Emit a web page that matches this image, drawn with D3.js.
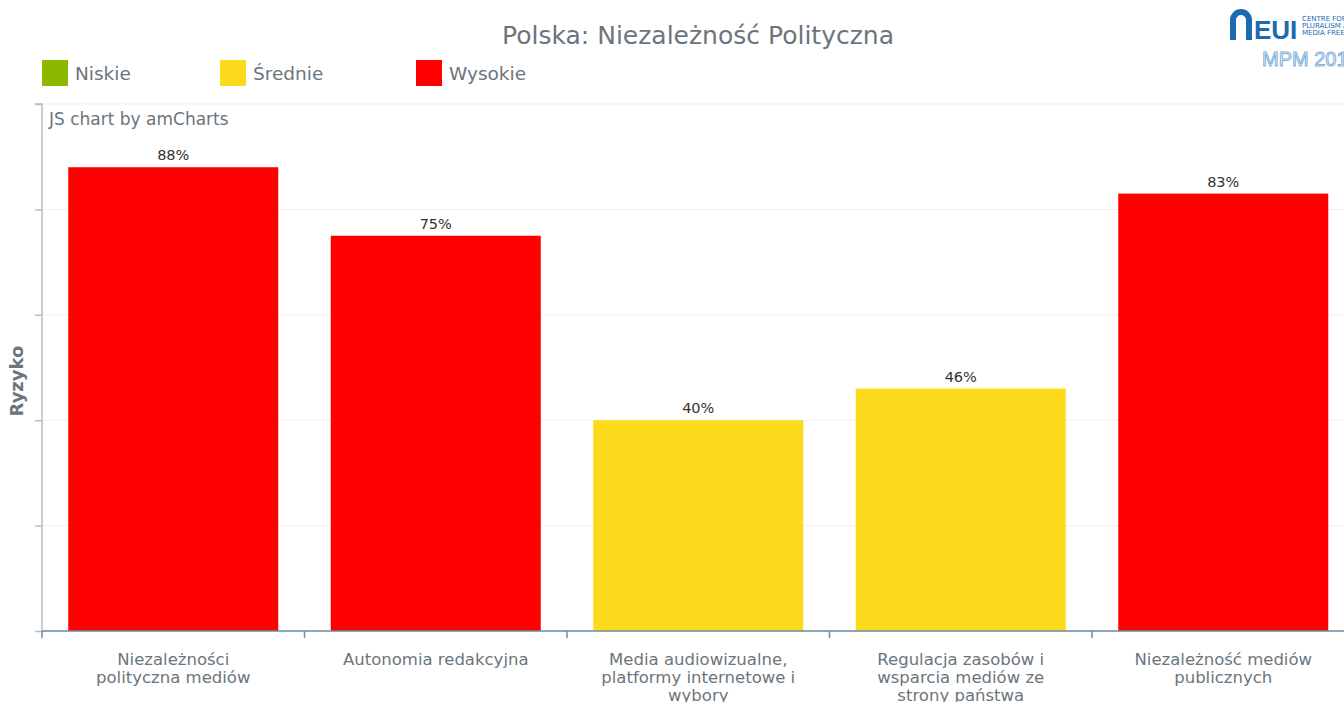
<!DOCTYPE html>
<html><head><meta charset="utf-8">
<script src="https://cdn.jsdelivr.net/npm/d3@7"></script>
<style>body{margin:0;background:#fff;overflow:hidden}svg{display:block;font-family:"DejaVu Sans",Verdana,sans-serif}</style>
</head><body>
<svg id="c" width="1344" height="702"></svg>
<script>
const categories = [
  ["Niezależności", "polityczna mediów"],
  ["Autonomia redakcyjna"],
  ["Media audiowizualne,", "platformy internetowe i", "wybory"],
  ["Regulacja zasobów i", "wsparcia mediów ze", "strony państwa"],
  ["Niezależność mediów", "publicznych"]
];
const values = [88, 75, 40, 46, 83];
const riskLevels = ["Wysokie", "Wysokie", "Średnie", "Średnie", "Wysokie"];
const legendLabels = ["Niskie", "Średnie", "Wysokie"];
const legendColors = ["#8cb800", "#fbdb1c", "#ff0000"];
const yTicks = [0, 20, 40, 60, 80, 100];

const svg = d3.select("#c");
const textCol = "#6b757d";
const color = d3.scaleOrdinal().domain(legendLabels).range(legendColors);

const x = d3.scaleBand().domain(d3.range(categories.length)).range([42, 1354.5]).paddingInner(0.2).paddingOuter(0.1);
const xStep = d3.scaleBand().domain(d3.range(categories.length)).range([42, 1354.5]);
const y = d3.scaleLinear().domain([0, 100]).range([631, 104]);

// grid
svg.append("g").selectAll("line").data(yTicks).join("line")
  .attr("x1", 42).attr("x2", 1344).attr("y1", d => y(d)).attr("y2", d => y(d))
  .attr("stroke", "#f0f0f0").attr("stroke-width", 1);

// bars
svg.append("g").selectAll("rect").data(values).join("rect")
  .attr("x", (d, i) => x(i)).attr("width", x.bandwidth())
  .attr("y", d => y(d)).attr("height", d => y(0) - y(d))
  .attr("fill", (d, i) => color(riskLevels[i]));

// value labels
svg.append("g").selectAll("text").data(values).join("text")
  .attr("x", (d, i) => x(i) + x.bandwidth() / 2).attr("y", d => y(d) - 7)
  .attr("text-anchor", "middle").attr("font-size", 14.5).attr("fill", "#333")
  .text(d => d + "%");

// y axis
const yAxis = d3.axisLeft(y).tickValues(yTicks).tickSize(7).tickFormat("");
const yg = svg.append("g").attr("transform", "translate(42,0)").call(yAxis);
yg.selectAll("path,line").attr("stroke", "#b7bec4").attr("stroke-width", 1.5);
yg.select(".domain").attr("d", "M-7,104H0V631");

// x axis
const xg = svg.append("g").attr("transform", "translate(0,631)");
xg.append("line").attr("x1", 42).attr("x2", 1344).attr("y1", 0).attr("y2", 0).attr("stroke", "#6e8ca2").attr("stroke-width", 1.5);
xg.selectAll("line.t").data(d3.range(categories.length)).join("line").attr("class", "t")
  .attr("x1", i => xStep(i)).attr("x2", i => xStep(i)).attr("y1", 0).attr("y2", 7)
  .attr("stroke", "#6e8ca2").attr("stroke-width", 1.5);

const lab = svg.append("g").selectAll("text").data(categories).join("text")
  .attr("text-anchor", "middle").attr("font-size", 16.5).attr("fill", textCol);
lab.each(function(lines, i) {
  d3.select(this).selectAll("tspan").data(lines).join("tspan")
    .attr("x", xStep(i) + xStep.bandwidth() / 2)
    .attr("y", (d, k) => 665 + k * 18).text(d => d);
});

// y title
svg.append("text").attr("transform", "translate(23,381) rotate(-90)")
  .attr("text-anchor", "middle").attr("font-size", 18).attr("font-weight", "bold")
  .attr("fill", textCol).text("Ryzyko");

// credit
svg.append("text").attr("x", 49).attr("y", 125).attr("font-size", 17).attr("fill", textCol).text("JS chart by amCharts");

// title
svg.append("text").attr("x", 698).attr("y", 44).attr("text-anchor", "middle")
  .attr("font-size", 25).attr("fill", textCol).text("Polska: Niezależność Polityczna");

// legend
const legX = [42, 220, 416];
const lg = svg.append("g").selectAll("g").data(legendLabels).join("g")
  .attr("transform", (d, i) => `translate(${legX[i]},60)`);
lg.append("rect").attr("width", 26).attr("height", 26).attr("fill", d => color(d));
lg.append("text").attr("x", 33).attr("y", 20).attr("font-size", 18.5).attr("fill", textCol).text(d => d);

// logo
const logo = svg.append("g").attr("transform", "translate(1230,6)");
logo.append("path").attr("d", "M0,34V14A11,11 0 0 1 22,14V34H16V14A5,5 0 0 0 6,14V34Z").attr("fill", "#1a6bb0");
logo.append("text").attr("x", 24).attr("y", 33).attr("font-size", 26).attr("font-weight", "bold")
  .attr("font-family", "Liberation Sans Narrow, Liberation Sans, sans-serif").attr("fill", "#1a6bb0").text("EUI");
["CENTRE FOR", "PLURALISM AND", "MEDIA FREEDOM"].forEach((t, i) => {
  logo.append("text").attr("x", 72).attr("y", 15 + i * 7).attr("font-size", 7).attr("fill", "#1a6bb0").text(t);
});
logo.append("text").attr("x", 32).attr("y", 60).attr("font-size", 20)
  .attr("font-family", "Liberation Sans, sans-serif")
  .attr("fill", "none").attr("stroke", "#7fb0d8").attr("stroke-width", 1).text("MPM 2018");
</script>
</body></html>
